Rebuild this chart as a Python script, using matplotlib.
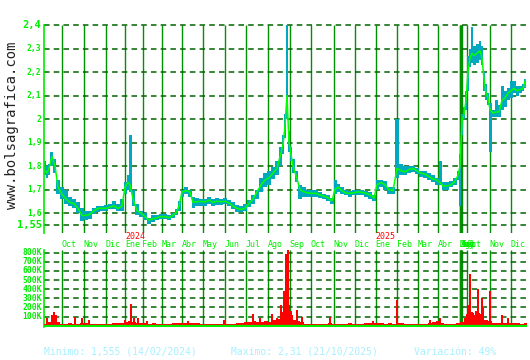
import matplotlib.pyplot as plt
import numpy as np

plt.rcParams['lines.scale_dashes'] = False
MONO = 'DejaVu Sans Mono'

# sesiones (eje x) y precios
ses = [45, 47, 49, 52, 55, 58, 62, 66, 70, 74, 78, 82, 86, 90, 94, 98, 102, 106, 110, 114,
       118, 122, 125, 128, 130, 133, 137, 141, 145, 149, 153, 157, 161, 165, 169, 173, 176, 179, 182, 186,
       190, 193, 197, 201, 205, 209, 213, 217, 221, 225, 229, 233, 237, 241, 245, 249, 253, 257, 261, 265,
       269, 273, 277, 280, 283, 285, 287, 289, 291, 293, 296, 300, 304, 308, 312, 316, 320, 324, 328, 332,
       335, 338, 342, 346, 350, 354, 358, 362, 366, 370, 374, 377, 381, 385, 389, 393, 397, 401, 405, 409,
       413, 417, 421, 425, 429, 433, 437, 440, 443, 447, 451, 455, 458, 460, 462, 464, 466, 468, 470, 472,
       474, 477, 480, 482, 484, 486, 488, 490, 493, 496, 499, 502, 505, 508, 511, 514, 517, 520, 523, 525]
cierre = [1.78, 1.77, 1.79, 1.84, 1.80, 1.71, 1.68, 1.66, 1.645, 1.64, 1.62, 1.59, 1.59, 1.595, 1.61, 1.62, 1.62, 1.62, 1.625, 1.63,
          1.62, 1.63, 1.71, 1.73, 1.72, 1.66, 1.61, 1.60, 1.585, 1.57, 1.575, 1.58, 1.585, 1.584, 1.58, 1.59, 1.60, 1.63, 1.69, 1.695,
          1.69, 1.645, 1.648, 1.65, 1.647, 1.655, 1.645, 1.65, 1.648, 1.65, 1.643, 1.63, 1.62, 1.615, 1.62, 1.64, 1.66, 1.69, 1.72, 1.74,
          1.75, 1.77, 1.79, 1.84, 1.89, 1.97, 2.10, 1.90, 1.85, 1.80, 1.76, 1.70, 1.69, 1.685, 1.684, 1.684, 1.677, 1.672, 1.665, 1.652,
          1.70, 1.71, 1.695, 1.685, 1.684, 1.686, 1.69, 1.688, 1.684, 1.677, 1.664, 1.72, 1.73, 1.72, 1.70, 1.695, 1.79, 1.78, 1.775, 1.785,
          1.79, 1.78, 1.77, 1.765, 1.755, 1.745, 1.74, 1.73, 1.715, 1.715, 1.72, 1.735, 1.76, 1.80, 1.99, 2.02, 2.08, 2.20, 2.26, 2.28,
          2.27, 2.28, 2.29, 2.26, 2.17, 2.11, 2.09, 2.04, 2.025, 2.03, 2.03, 2.08, 2.09, 2.11, 2.12, 2.13, 2.12, 2.125, 2.13, 2.16]
minimo = [1.76, 1.75, 1.76, 1.80, 1.77, 1.68, 1.66, 1.64, 1.63, 1.62, 1.60, 1.565, 1.57, 1.575, 1.595, 1.605, 1.61, 1.61, 1.615, 1.615,
          1.61, 1.61, 1.68, 1.70, 1.69, 1.63, 1.59, 1.585, 1.57, 1.555, 1.56, 1.57, 1.575, 1.575, 1.57, 1.58, 1.59, 1.61, 1.67, 1.68,
          1.67, 1.62, 1.63, 1.63, 1.63, 1.64, 1.63, 1.635, 1.635, 1.64, 1.63, 1.615, 1.605, 1.605, 1.61, 1.625, 1.64, 1.66, 1.69, 1.71,
          1.72, 1.745, 1.76, 1.80, 1.85, 1.92, 2.00, 1.86, 1.82, 1.77, 1.73, 1.66, 1.67, 1.67, 1.67, 1.67, 1.665, 1.66, 1.65, 1.64,
          1.68, 1.69, 1.68, 1.675, 1.67, 1.675, 1.675, 1.675, 1.67, 1.66, 1.65, 1.70, 1.71, 1.70, 1.68, 1.68, 1.75, 1.76, 1.76, 1.77,
          1.775, 1.765, 1.755, 1.75, 1.74, 1.73, 1.72, 1.72, 1.70, 1.70, 1.71, 1.72, 1.74, 1.63, 1.93, 2.00, 2.04, 2.12, 2.22, 2.24,
          2.23, 2.24, 2.25, 2.23, 2.12, 2.08, 2.06, 1.86, 2.01, 2.01, 2.01, 2.04, 2.05, 2.08, 2.09, 2.11, 2.10, 2.11, 2.12, 2.13]
maximo = [1.82, 1.80, 1.81, 1.86, 1.83, 1.74, 1.71, 1.70, 1.67, 1.66, 1.645, 1.62, 1.61, 1.61, 1.62, 1.63, 1.63, 1.635, 1.64, 1.65,
          1.64, 1.66, 1.73, 1.76, 1.93, 1.70, 1.64, 1.61, 1.60, 1.58, 1.59, 1.59, 1.595, 1.595, 1.59, 1.60, 1.615, 1.65, 1.70, 1.71,
          1.70, 1.67, 1.665, 1.66, 1.66, 1.67, 1.66, 1.665, 1.66, 1.665, 1.655, 1.645, 1.635, 1.63, 1.64, 1.655, 1.675, 1.70, 1.75, 1.77,
          1.78, 1.795, 1.82, 1.88, 1.93, 2.02, 2.40, 1.95, 1.88, 1.83, 1.78, 1.72, 1.71, 1.70, 1.70, 1.70, 1.69, 1.68, 1.675, 1.665,
          1.74, 1.725, 1.71, 1.70, 1.695, 1.70, 1.70, 1.70, 1.695, 1.69, 1.675, 1.74, 1.74, 1.735, 1.71, 1.71, 2.00, 1.81, 1.80, 1.80,
          1.80, 1.79, 1.78, 1.78, 1.77, 1.76, 1.75, 1.82, 1.73, 1.73, 1.735, 1.75, 1.78, 1.85, 2.02, 2.05, 2.12, 2.27, 2.30, 2.39,
          2.31, 2.32, 2.33, 2.31, 2.20, 2.15, 2.11, 2.07, 2.04, 2.08, 2.06, 2.14, 2.12, 2.13, 2.16, 2.16, 2.14, 2.14, 2.15, 2.17]

# volumen (miles de titulos)
vol_ses = np.arange(46, 527, 4)
vol_k = [20, 40, 60, 40, 20, 15, 25, 20, 15, 25,
         30, 20, 15, 15, 20, 15, 20, 25, 35, 35,
         45, 50, 40, 35, 30, 25, 20, 25, 15, 15,
         20, 20, 25, 30, 35, 30, 30, 35, 25, 20,
         15, 15, 20, 15, 20, 20, 15, 20, 25, 35,
         40, 45, 50, 45, 40, 50, 45, 60, 70, 150,
         300, 160, 60, 50, 40, 20, 20, 20, 15, 20,
         20, 25, 20, 20, 20, 20, 25, 20, 20, 20,
         25, 25, 35, 30, 25, 20, 25, 20, 25, 25,
         20, 20, 20, 20, 15, 20, 30, 45, 50, 30,
         20, 20, 20, 25, 40, 90, 150, 120, 140, 130,
         60, 50, 30, 30, 30, 30, 25, 30, 25, 20, 25]
pico_ses = [47, 52, 54, 56, 75, 82, 89, 125, 131, 134, 138, 147, 188, 224, 253, 260, 272, 277, 281, 284,
            285, 286, 288, 289, 291, 292, 297, 302, 330, 373, 397, 430, 440, 467, 468, 469, 470, 472, 473, 476,
            478, 479, 482, 483, 490, 502, 508]
pico_k = [85, 120, 150, 115, 100, 80, 60, 65, 240, 80, 85, 50, 50, 60, 130, 90, 130, 80, 232, 380,
          305, 785, 832, 232, 155, 120, 175, 100, 100, 55, 287, 65, 80, 130, 230, 175, 565, 155, 135, 160,
          400, 135, 305, 195, 380, 120, 80]

# lineas de mes
mes_ses = [62.3, 84.3, 106.3, 125.3, 142.7, 162.3, 182.3, 203, 225.3, 245.7, 268.3, 290.3,
           311.3, 334.3, 355.3, 375.7, 397.3, 417.7, 438.3, 459.7, 460.2, 460.7, 461.2, 461.7, 467.3, 490.3, 510.7]
mes_txt = ['Oct', 'Nov', 'Dic', 'Ene', 'Feb', 'Mar', 'Abr', 'May', 'Jun', 'Jul', 'Ago', 'Sep',
           'Oct', 'Nov', 'Dic', 'Ene', 'Feb', 'Mar', 'Abr', 'May', 'Jun', 'Jul', 'Ago', 'Sep', 'Oct', 'Nov', 'Dic']
anyo_ses = [125.3, 375.7]
anyo_txt = ['2024', '2025']

precio_ticks = [2.4, 2.3, 2.2, 2.1, 2.0, 1.9, 1.8, 1.7, 1.6, 1.55]
precio_lbl = ['2,4', '2,3', '2,2', '2,1', '2', '1,9', '1,8', '1,7', '1,6', '1,55']
vol_ticks = [100, 200, 300, 400, 500, 600, 700, 800]

W, H = 530, 360
fig = plt.figure(figsize=(5.3, 3.6), dpi=100)
ax = fig.add_axes([44 / W, 1 - 233 / H, 483 / W, 208 / H])
axv = fig.add_axes([44 / W, 1 - 327 / H, 483 / W, 77 / H])

VERDE = '#00ee00'
for a in (ax, axv):
    a.set_xlim(44, 527)
    a.set_xticks([])
    a.set_yticks([])
    for s in ('top', 'right', 'bottom'):
        a.spines[s].set_visible(False)
    a.spines['left'].set_color(VERDE)
    a.spines['left'].set_linewidth(1.2)
    a.vlines(mes_ses, 0, 1, transform=a.get_xaxis_transform(), color='#009000', lw=1.0, zorder=1)

ax.set_ylim(1.515, 2.4)
ax.hlines(precio_ticks, 44, 527, color='#006400', lw=1.1, linestyles=(0, (4, 3)), zorder=1, clip_on=False)
ses_a = np.array(ses)
ax.fill_between(ses_a, minimo, maximo, step='mid', color='#00a8c0', lw=0, zorder=2)
ax.vlines(ses_a, minimo, maximo, color='#00a8c0', lw=1.2, zorder=2)
ax.plot(ses_a, cierre, color='#00ff00', lw=1.1, zorder=3)

ytr = ax.get_yaxis_transform()
for v, t in zip(precio_ticks, precio_lbl):
    big = t in ('2,4', '1,55')
    ax.text(-0.005, v, t, transform=ytr, ha='right', va='center', color='#00ee00',
            fontsize=7.5 if big else 5.8, family=MONO, fontweight='bold')

xtr = ax.get_xaxis_transform()
for x, t in zip(mes_ses, mes_txt):
    ax.text(x - 0.5, -0.053, t, transform=xtr, ha='left', va='center', color='#00ee00',
            fontsize=6, family=MONO)
for x, t in zip(anyo_ses, anyo_txt):
    ax.text(x, -0.016, t, transform=xtr, ha='left', va='center', color='#ff0000',
            fontsize=6, family=MONO)

axv.set_ylim(-14, 830)
axv.hlines(vol_ticks, 44, 527, color='#006400', lw=1.1, linestyles=(0, (4, 3)), zorder=1)
axv.bar(vol_ses, vol_k, width=3.6, color='#ff0000', lw=0, zorder=3)
axv.bar(pico_ses, pico_k, width=1.1, color='#ff0000', lw=0, zorder=3)
axv.axhline(-7, color=VERDE, lw=1.6, zorder=4)
vtr = axv.get_yaxis_transform()
for v in vol_ticks:
    axv.text(-0.005, v, f'{v}K', transform=vtr, ha='right', va='center', color='#00ee00',
             fontsize=5.8, family=MONO, fontweight='bold')

fig.text(12 / W, 1 - 125 / H, 'www.bolsagrafica.com', rotation=90, ha='center', va='center',
         fontsize=10, family=MONO, color='#222222')

pie_y = 1 - 352 / H
pie = '#a8f0ff'
fig.text(44 / W, pie_y, 'Minimo: 1,555 (14/02/2024)', ha='left', va='center', fontsize=7, family=MONO, color=pie)
fig.text(231 / W, pie_y, 'Maximo: 2,31 (21/10/2025)', ha='left', va='center', fontsize=7, family=MONO, color=pie)
fig.text(414 / W, pie_y, 'Variación: 49%', ha='left', va='center', fontsize=7, family=MONO, color=pie)

plt.savefig('out.png', dpi=100, facecolor='white')
